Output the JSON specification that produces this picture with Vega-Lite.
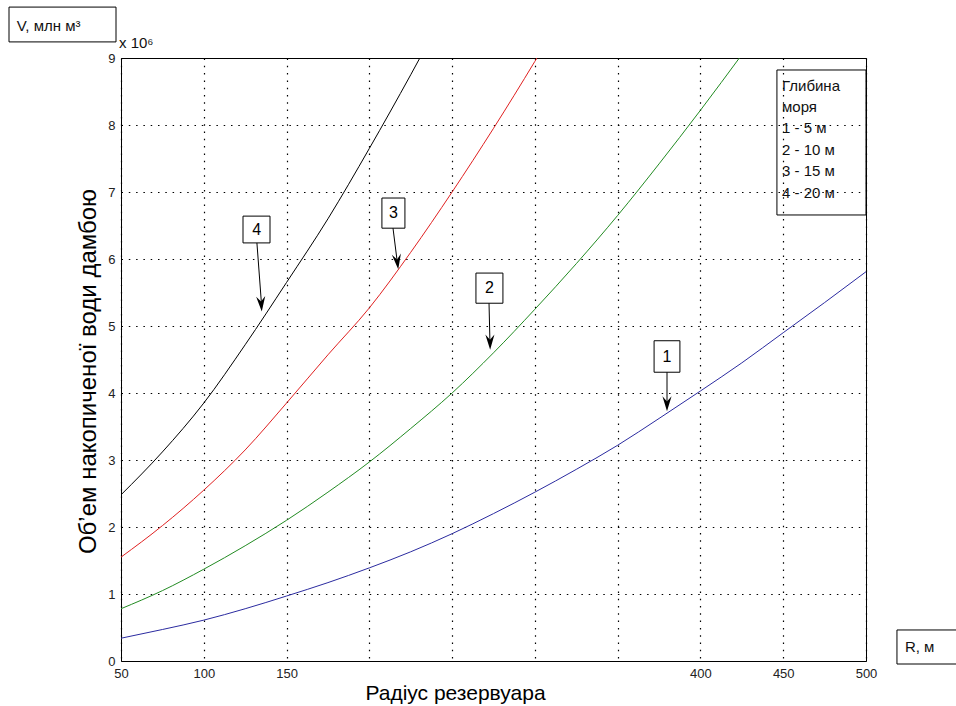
{
  "$schema": "https://vega.github.io/schema/vega-lite/v6.json",
  "width": 745,
  "height": 603,
  "autosize": {"type": "none"},
  "padding": {"left": 121, "top": 58, "right": 90, "bottom": 45},
  "background": "white",
  "config": {
    "view": {"stroke": "#000", "strokeWidth": 1},
    "axis": {
      "domain": false,
      "ticks": false,
      "grid": true,
      "gridColor": "#000",
      "gridOpacity": 1,
      "gridWidth": 1.2,
      "gridDash": [1.5, 5.8],
      "labelFont": "Liberation Sans",
      "labelFontSize": 13,
      "labelColor": "#222",
      "labelFlush": false,
      "labelOverlap": false,
      "titleFont": "Liberation Sans",
      "titleFontWeight": "normal",
      "titleColor": "#000"
    }
  },
  "datasets": {
    "curves": [
      {"R": 50, "V": 0.34, "s": "1"}, {"R": 75, "V": 0.47, "s": "1"}, {"R": 100, "V": 0.61, "s": "1"},
      {"R": 125, "V": 0.78, "s": "1"}, {"R": 150, "V": 0.97, "s": "1"}, {"R": 175, "V": 1.17, "s": "1"},
      {"R": 200, "V": 1.39, "s": "1"}, {"R": 225, "V": 1.63, "s": "1"}, {"R": 250, "V": 1.9, "s": "1"},
      {"R": 275, "V": 2.2, "s": "1"}, {"R": 300, "V": 2.52, "s": "1"}, {"R": 325, "V": 2.86, "s": "1"},
      {"R": 350, "V": 3.22, "s": "1"}, {"R": 375, "V": 3.62, "s": "1"}, {"R": 400, "V": 4.03, "s": "1"},
      {"R": 425, "V": 4.45, "s": "1"}, {"R": 450, "V": 4.9, "s": "1"}, {"R": 475, "V": 5.35, "s": "1"},
      {"R": 500, "V": 5.81, "s": "1"},
      {"R": 50, "V": 0.78, "s": "2"}, {"R": 75, "V": 1.05, "s": "2"}, {"R": 100, "V": 1.37, "s": "2"},
      {"R": 125, "V": 1.72, "s": "2"}, {"R": 150, "V": 2.1, "s": "2"}, {"R": 175, "V": 2.52, "s": "2"},
      {"R": 200, "V": 2.97, "s": "2"}, {"R": 225, "V": 3.47, "s": "2"}, {"R": 250, "V": 4.0, "s": "2"},
      {"R": 275, "V": 4.6, "s": "2"}, {"R": 300, "V": 5.25, "s": "2"}, {"R": 325, "V": 5.93, "s": "2"},
      {"R": 350, "V": 6.65, "s": "2"}, {"R": 375, "V": 7.42, "s": "2"}, {"R": 400, "V": 8.22, "s": "2"},
      {"R": 425, "V": 9.05, "s": "2"}, {"R": 450, "V": 9.9, "s": "2"},
      {"R": 50, "V": 1.55, "s": "3"}, {"R": 75, "V": 2.02, "s": "3"}, {"R": 100, "V": 2.55, "s": "3"},
      {"R": 125, "V": 3.15, "s": "3"}, {"R": 150, "V": 3.85, "s": "3"}, {"R": 175, "V": 4.57, "s": "3"},
      {"R": 200, "V": 5.27, "s": "3"}, {"R": 225, "V": 6.1, "s": "3"}, {"R": 250, "V": 7.0, "s": "3"},
      {"R": 275, "V": 7.95, "s": "3"}, {"R": 300, "V": 8.95, "s": "3"}, {"R": 325, "V": 10.0, "s": "3"},
      {"R": 50, "V": 2.48, "s": "4"}, {"R": 75, "V": 3.12, "s": "4"}, {"R": 100, "V": 3.85, "s": "4"},
      {"R": 125, "V": 4.72, "s": "4"}, {"R": 150, "V": 5.65, "s": "4"}, {"R": 175, "V": 6.6, "s": "4"},
      {"R": 200, "V": 7.65, "s": "4"}, {"R": 225, "V": 8.75, "s": "4"}, {"R": 250, "V": 9.9, "s": "4"}
    ],
    "arrows": [
      {"R": 132.1, "V": 6.24, "R2": 135.0, "V2": 5.28},
      {"R": 214.3, "V": 6.46, "R2": 217.1, "V2": 5.91},
      {"R": 272.3, "V": 5.34, "R2": 272.9, "V2": 4.71},
      {"R": 379.8, "V": 4.31, "R2": 379.8, "V2": 3.79}
    ],
    "heads": [
      {"R": 134.7, "V": 5.33, "ang": -4},
      {"R": 216.9, "V": 5.96, "ang": -7},
      {"R": 272.9, "V": 4.76, "ang": -1},
      {"R": 379.8, "V": 3.84, "ang": 0}
    ],
    "boxes": [
      {"R": 123.7, "R2": 140.0, "V": 6.24, "V2": 6.64, "Rc": 131.9, "Vc": 6.44, "t": "4"},
      {"R": 207.6, "R2": 221.5, "V": 6.46, "V2": 6.91, "Rc": 214.5, "Vc": 6.69, "t": "3"},
      {"R": 264.4, "R2": 280.7, "V": 5.34, "V2": 5.79, "Rc": 272.5, "Vc": 5.57, "t": "2"},
      {"R": 372.0, "R2": 387.6, "V": 4.31, "V2": 4.78, "Rc": 379.8, "Vc": 4.54, "t": "1"},
      {"R": 446.2, "R2": 500, "V": 6.657, "V2": 8.821, "Rc": null, "Vc": null, "t": ""},
      {"R": -17.65, "R2": 46.98, "V": 9.24, "V2": 9.76, "Rc": null, "Vc": null, "t": ""},
      {"R": 518.7, "R2": 560, "V": -0.045, "V2": 0.463, "Rc": null, "Vc": null, "t": ""}
    ],
    "texts": [
      {"R": 449.25, "V": 8.582, "t": "Глибина", "k": "leg"},
      {"R": 449.25, "V": 8.269, "t": "моря", "k": "leg"},
      {"R": 449.25, "V": 7.955, "t": "1 - 5 м", "k": "leg"},
      {"R": 449.25, "V": 7.627, "t": "2 - 10 м", "k": "leg"},
      {"R": 449.25, "V": 7.313, "t": "3 - 15 м", "k": "leg"},
      {"R": 449.25, "V": 6.985, "t": "4 - 20 м", "k": "leg"},
      {"R": -13.0, "V": 9.48, "t": "V, млн м³", "k": "out"},
      {"R": 48.8, "V": 9.224, "t": "x 10⁶", "k": "out"},
      {"R": 523.5, "V": 0.209, "t": "R, м", "k": "out"}
    ]
  },
  "encoding": {
    "x": {
      "field": "R", "type": "quantitative",
      "scale": {"domain": [50, 500], "nice": false, "zero": false},
      "axis": {
        "values": [50, 100, 150, 200, 250, 300, 350, 400, 450, 500],
        "labelExpr": "indexof([200,250,300,350], datum.value) >= 0 ? '' : datum.label",
        "labelPadding": 6,
        "title": "Радіус резервуара",
        "titleFontSize": 21,
        "titleX": 334, "titleY": 32, "titleAlign": "center", "titleBaseline": "middle"
      }
    },
    "y": {
      "field": "V", "type": "quantitative",
      "scale": {"domain": [0, 9], "nice": false, "zero": false},
      "axis": {
        "values": [0, 1, 2, 3, 4, 5, 6, 7, 8, 9],
        "labelPadding": 6,
        "title": "Об’ем  накопиченої води дамбою",
        "titleFontSize": 24,
        "titleAngle": 270, "titleX": -33, "titleY": 313, "titleAlign": "center", "titleBaseline": "middle"
      }
    }
  },
  "layer": [
    {
      "data": {"name": "curves"},
      "mark": {"type": "line", "clip": true, "strokeWidth": 1, "interpolate": "monotone"},
      "encoding": {
        "color": {"field": "s", "type": "nominal", "legend": null,
          "scale": {"domain": ["1", "2", "3", "4"], "range": ["#2b2ba0", "#228b22", "#e02020", "#000000"]}}
      }
    },
    {
      "data": {"name": "arrows"},
      "mark": {"type": "rule", "color": "#000", "strokeWidth": 1},
      "encoding": {"x2": {"field": "R2"}, "y2": {"field": "V2"}}
    },
    {
      "data": {"name": "heads"},
      "mark": {"type": "point", "filled": true, "color": "#000", "opacity": 1, "size": 230,
        "shape": "M0,1 L-0.6,-1 L0,-0.3 L0.6,-1 Z"},
      "encoding": {"angle": {"field": "ang", "type": "quantitative", "scale": null}}
    },
    {
      "data": {"name": "boxes"},
      "mark": {"type": "rect", "fill": null, "fillOpacity": 0, "stroke": "#000", "strokeWidth": 1},
      "encoding": {"x2": {"field": "R2"}, "y2": {"field": "V2"}}
    },
    {
      "data": {"name": "boxes"},
      "transform": [{"filter": "datum.t != ''"}],
      "mark": {"type": "text", "font": "Liberation Sans", "fontSize": 16, "color": "#000", "align": "center", "baseline": "middle"},
      "encoding": {"x": {"field": "Rc", "type": "quantitative"}, "y": {"field": "Vc", "type": "quantitative"}, "text": {"field": "t"}}
    },
    {
      "data": {"name": "texts"},
      "mark": {"type": "text", "font": "Liberation Sans", "fontSize": 15, "color": "#111", "align": "left", "baseline": "middle"},
      "encoding": {"text": {"field": "t"}}
    }
  ]
}
